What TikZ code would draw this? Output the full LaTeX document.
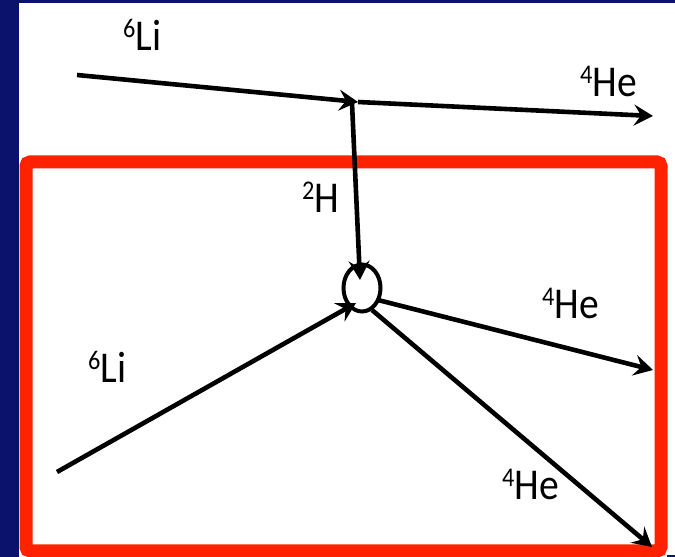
\documentclass[tikz,border=0pt]{standalone}
\usepackage{fontspec}
\setmainfont{Carlito}
\usetikzlibrary{arrows.meta,shapes.geometric}
\definecolor{navy}{RGB}{10,18,108}
\definecolor{redframe}{RGB}{255,34,0}
\newcommand{\nucl}[2]{{\fontsize{27}{27}\selectfont\raisebox{13pt}{#1}}#2}
\tikzset{
  lbl/.style={anchor=base west, inner sep=0pt, font=\fontsize{44}{46}\selectfont, xscale=0.9, transform shape},
  ray/.style={line width=4.6pt, -{Stealth[length=19pt,width=21pt,inset=7pt]}},
}
\begin{document}
\begin{tikzpicture}[x=1pt,y=1pt]
\useasboundingbox (0,0) rectangle (675,557);
\fill[white] (0,0) rectangle (675,557);
\fill[navy] (0,0) rectangle (19,557);
\fill[navy] (0,554) rectangle (675,557);
\fill[navy] (667,0) rectangle (675,1.5);
% red frame
\draw[redframe, line width=13pt, rounded corners=4pt] (26,6) rectangle (661,395);
% coordinates
\coordinate (liAstart) at (77,482);
\coordinate (junc) at (358,455);
\coordinate (heAend) at (653,441);
\coordinate (hstart) at (352,454);
\coordinate (htip) at (360,277);
\coordinate (liBstart) at (57,85);
\coordinate (liBtip) at (356,254);
\coordinate (heBstart) at (378,257);
\coordinate (heBend) at (653,187);
\coordinate (heCstart) at (372,247);
\coordinate (heCend) at (652,10);
% reaction point
\node[draw, ellipse, line width=4pt, minimum width=37pt, minimum height=47pt, inner sep=0pt] (vtx) at (362,269) {};
% connectors
\draw[ray] (liAstart) -- (junc);
\draw[ray] (junc) -- (heAend);
\draw[ray] (hstart) -- (htip);
\draw[ray] (liBstart) -- (liBtip);
\draw[ray] (heBstart) -- (heBend);
\draw[ray] (heCstart) -- (heCend);
% labels
\node[lbl] (tLi) at (123,506) {\nucl{6}{Li}};
\node[lbl] (tHe) at (580,460) {\nucl{4}{He}};
\node[lbl] (dH) at (302,344) {\nucl{2}{H}};
\node[lbl] (mHe) at (542,238) {\nucl{4}{He}};
\node[lbl] (bLi) at (88,174) {\nucl{6}{Li}};
\node[lbl] (bHe) at (502,57) {\nucl{4}{He}};
\end{tikzpicture}
\end{document}
